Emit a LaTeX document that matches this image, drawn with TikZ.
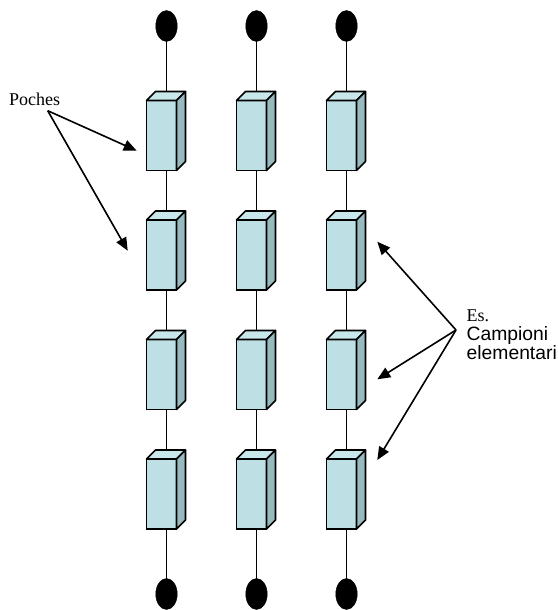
\documentclass[tikz,border=0pt]{standalone}
\usepackage{fontspec}
\setmainfont{Liberation Serif}
\setsansfont{Liberation Sans}
\usetikzlibrary{shapes.geometric,arrows.meta}

\definecolor{facefront}{RGB}{190,224,228}
\definecolor{facetop}{RGB}{200,231,234}
\definecolor{faceside}{RGB}{150,186,189}

\tikzset{
  pin end/.style={ellipse, fill=black, draw=black, minimum width=21.5pt,
    minimum height=31pt, inner sep=0pt, outer sep=0pt},
  string/.style={line width=1.8pt, black},
  pocket/.style={rectangle, draw=black, line width=1.6pt, fill=facefront,
    minimum width=30pt, minimum height=70pt, inner sep=0pt, outer sep=0pt},
  pockettop/.style={draw=black, line width=1.6pt, fill=facetop, line join=round},
  pocketside/.style={draw=black, line width=1.6pt, fill=faceside, line join=round},
  pointer/.style={line width=1.6pt, -{Triangle[length=13pt,width=11pt]}},
  serif label/.style={font=\rmfamily\fontsize{18}{18}\selectfont, inner sep=0pt, anchor=base west},
  sans label/.style={font=\sffamily\fontsize{19.3}{19.3}\selectfont, inner sep=0pt, anchor=base west}
}

\begin{document}
\begin{tikzpicture}[x=1pt, y=-1pt]
  \useasboundingbox (0,0) rectangle (557,610);

  % hanging strings with their end weights
  \foreach \c in {0,1,2} {
    \pgfmathsetmacro{\sx}{166.5+90*\c}
    \node[pin end] (top-\c) at (\sx,26) {};
    \node[pin end] (bot-\c) at (\sx,594) {};
    \draw[string] (top-\c) -- (bot-\c);
  }

  % pockets: front face plus top and side faces
  \foreach \c in {0,1,2} {
    \foreach \r in {0,1,2,3} {
      \pgfmathsetmacro{\px}{161.5+90*\c}
      \pgfmathsetmacro{\py}{135.5+119.5*\r}
      \node[pocket] (p-\c-\r) at (\px,\py) {};
      \draw[pockettop] (p-\c-\r.north west) -- ++(9,-9) -- ++(30,0)
        -- (p-\c-\r.north east) -- cycle;
      \draw[pocketside] (p-\c-\r.north east) -- ++(9,-9) -- ++(0,70)
        -- (p-\c-\r.south east) -- cycle;
    }
  }

  % labels
  \node[serif label] (poches) at (9,105) {Poches};
  \node[serif label] (es) at (466.5,321.7) {Es.};
  \node[sans label] (camp) at (466.5,340.5) {Campioni};
  \node[sans label] (elem) at (466.5,359.5) {elementari};

  % pointer origins and tips
  \coordinate (pfrom) at (47.7,110.7);
  \coordinate (ptip1) at (136.7,150.7);
  \coordinate (ptip2) at (127.7,250.7);
  \coordinate (efrom) at (456,330);
  \coordinate (etip1) at (377.3,241.7);
  \coordinate (etip2) at (377.3,379.3);
  \coordinate (etip3) at (377.3,460);

  \draw[pointer] (pfrom) -- (ptip1);
  \draw[pointer] (pfrom) -- (ptip2);
  \draw[pointer] (efrom) -- (etip1);
  \draw[pointer] (efrom) -- (etip2);
  \draw[pointer] (efrom) -- (etip3);
\end{tikzpicture}
\end{document}
